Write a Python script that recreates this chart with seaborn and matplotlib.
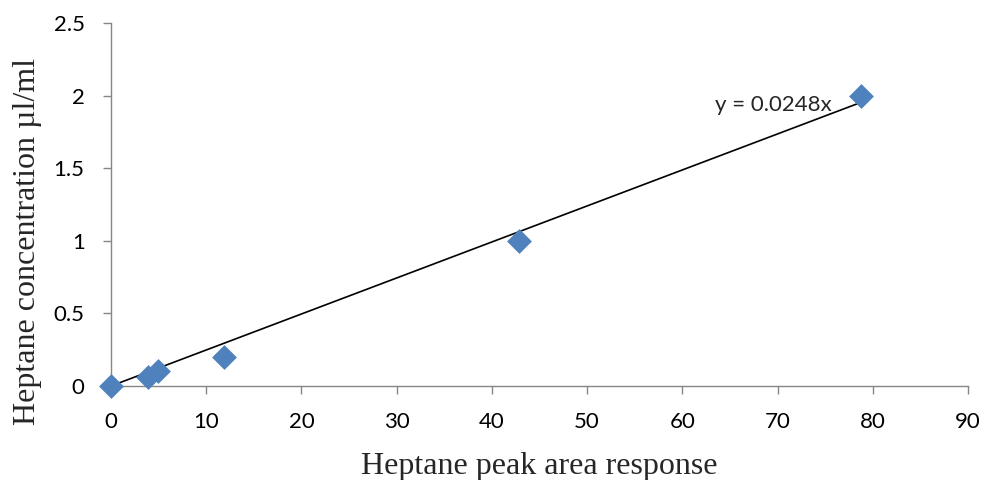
import numpy as np
import pandas as pd
import matplotlib
matplotlib.use("Agg")
import matplotlib.pyplot as plt
import seaborn as sns

# Data
peak_area = [0.0, 3.85, 4.9, 11.9, 42.8, 78.8]
concentration = [0.0, 0.06, 0.1, 0.2, 1.0, 2.0]
slope = 0.0248
equation_label = "y = 0.0248x"
x_ticks = [0, 10, 20, 30, 40, 50, 60, 70, 80, 90]
y_ticks = [0, 0.5, 1, 1.5, 2, 2.5]
y_tick_labels = ["0", "0.5", "1", "1.5", "2", "2.5"]
x_label = "Heptane peak area response"
y_label = "Heptane concentration \u00b5l/ml"

df = pd.DataFrame({"area": peak_area, "conc": concentration})

sns.set_theme(style="white")
plt.rcParams["font.family"] = ["Lato", "DejaVu Sans"]

fig = plt.figure(figsize=(9.87, 4.8), dpi=100)
ax = fig.add_axes([111/987, 1-386/480, (968-111)/987, (386-23)/480])

# trendline
xl = np.array([0.0, max(peak_area)])
ax.plot(xl, slope*xl, color="black", lw=1.2, zorder=2)

sns.scatterplot(data=df, x="area", y="conc", ax=ax, marker="D", s=160,
                color="#4F81BD", edgecolor="#4F81BD", linewidth=0, zorder=3,
                clip_on=False)

ax.set_xlim(0, 90)
ax.set_ylim(0, 2.5)
ax.set_xticks(x_ticks)
ax.set_yticks(y_ticks)
ax.set_yticklabels(y_tick_labels)

for side in ["top", "right"]:
    ax.spines[side].set_visible(False)
for side in ["left", "bottom"]:
    ax.spines[side].set_color("#868686")
    ax.spines[side].set_linewidth(1.0)

ax.tick_params(axis="both", which="major", direction="out", length=6, width=1,
               color="#868686", labelsize=16, labelcolor="black")
ax.tick_params(axis="x", bottom=True, pad=13)
ax.tick_params(axis="y", left=True, pad=13)

ax.set_xlabel(x_label, fontsize=23, family=["Liberation Serif"], labelpad=14)
ax.set_ylabel(y_label, fontsize=23, family=["Liberation Serif", "DejaVu Serif"])
ax.yaxis.set_label_coords(-0.0805, 0.398)

ax.text(63.4, 1.935, equation_label, fontsize=16, va="center", ha="left")

fig.savefig("out.png", dpi=100)
